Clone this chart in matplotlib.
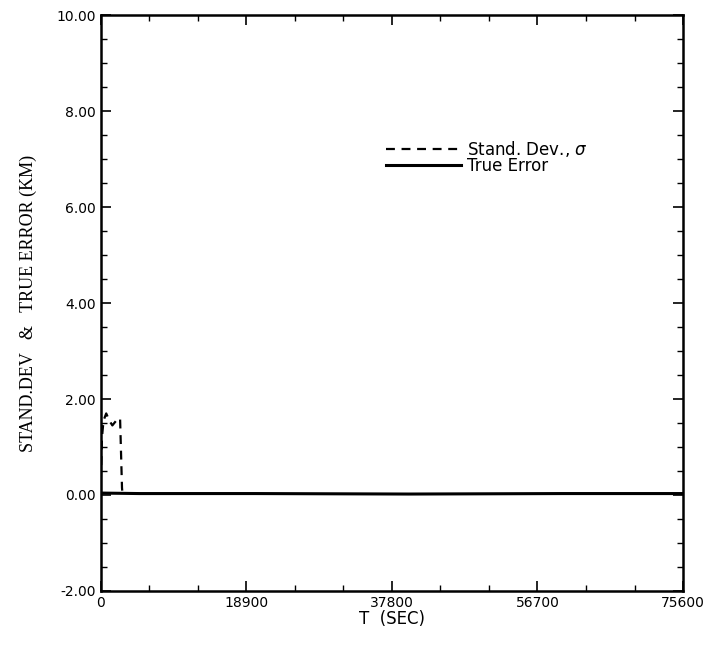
import matplotlib
matplotlib.use("Agg")
import matplotlib.pyplot as plt
from matplotlib.ticker import MultipleLocator

# data (time in sec, values in km)
t_sigma = [0, 150, 350, 700, 1100, 1500, 2000, 2500, 2750, 2800]
sigma = [0.3, 1.2, 1.55, 1.7, 1.55, 1.45, 1.55, 1.6, 0.15, 0.05]
t_err = [0, 5000, 20000, 40000, 60000, 75600]
err = [0.04, 0.03, 0.03, 0.02, 0.03, 0.03]

xticks = [0, 18900, 37800, 56700, 75600]
yticks = [-2, 0, 2, 4, 6, 8, 10]

fig = plt.figure(figsize=(7.10, 6.47), dpi=100)
ax = fig.add_axes([0.142, 0.0866, 0.820, 0.890])

ax.plot(t_sigma, sigma, color='black', linestyle=(0, (4, 3)), linewidth=1.6,
        label='Stand. Dev., $\\sigma$')
ax.plot(t_err, err, color='black', linestyle='-', linewidth=2.2, label='True Error')

ax.set_xlim(0, 75600)
ax.set_ylim(-2, 10)
ax.set_xticks(xticks)
ax.set_xticklabels([str(v) for v in xticks])
ax.set_yticks(yticks)
ax.set_yticklabels(['%.2f' % v for v in yticks])
ax.xaxis.set_minor_locator(MultipleLocator(6300))
ax.yaxis.set_minor_locator(MultipleLocator(0.5))
ax.tick_params(which='both', direction='in', top=True, right=True)
ax.tick_params(which='major', length=7, width=1.2, labelsize=10)
ax.tick_params(which='minor', length=4, width=1.0)
for s in ax.spines.values():
    s.set_linewidth(1.8)

ax.set_xlabel('T  (SEC)', fontsize=12, labelpad=0)
ax.set_ylabel('STAND.DEV   &   TRUE ERROR (KM)', fontsize=13, family='Liberation Serif',
              labelpad=14)

ax.legend(loc='upper left', bbox_to_anchor=(0.475, 0.80), frameon=False, fontsize=12,
          handlelength=4.5, handletextpad=0.4, labelspacing=-0.1, borderpad=0)

fig.savefig('out.png', dpi=100)
